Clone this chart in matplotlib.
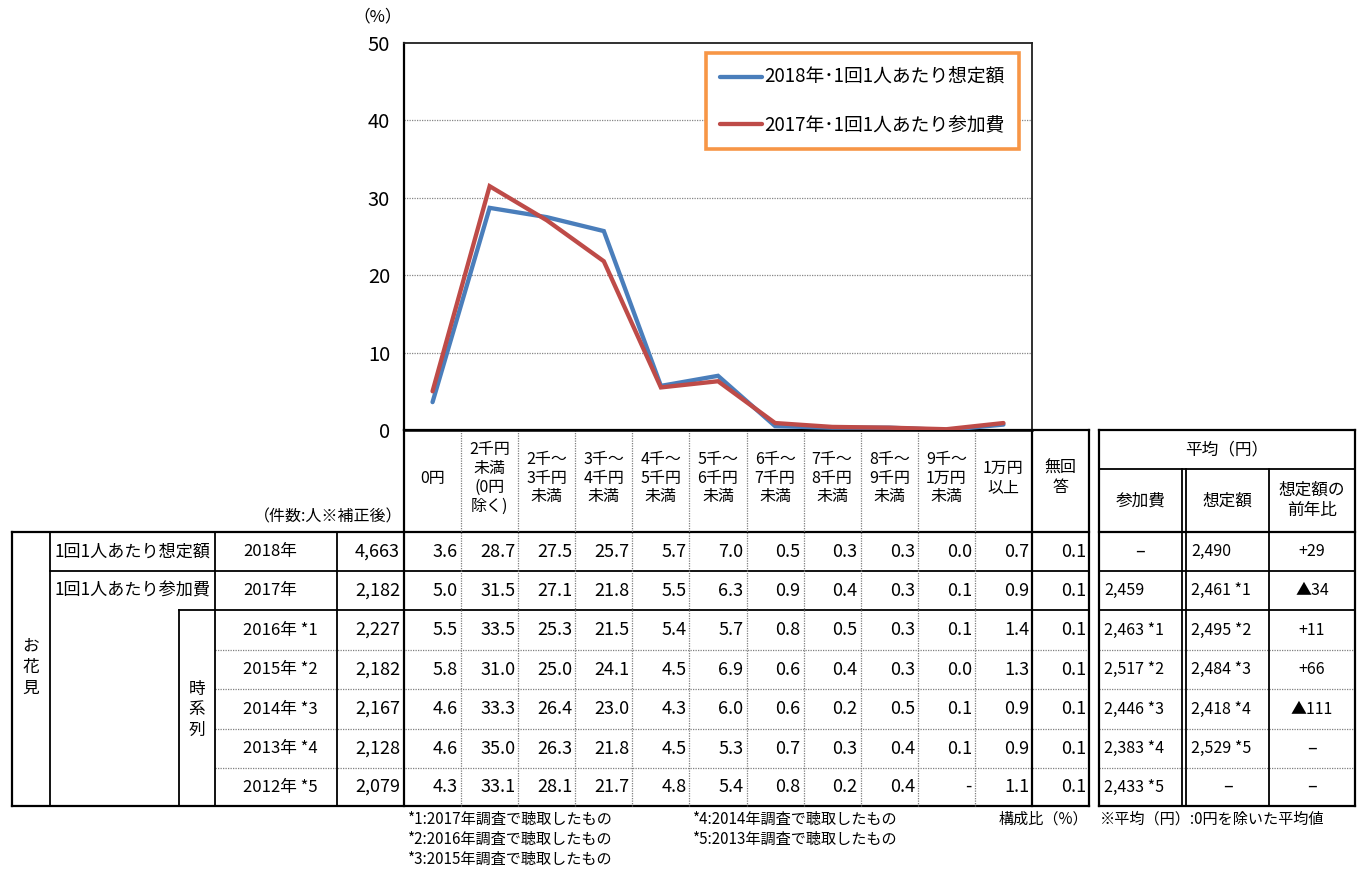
import matplotlib
matplotlib.use("Agg")
import matplotlib.pyplot as plt

plt.rcParams['font.family'] = ['Noto Sans CJK JP', 'DejaVu Sans']

# ---- data -------------------------------------------------------------
band_labels = ["0円", "2千円\n未満\n(0円\n除く)", "2千～\n3千円\n未満", "3千～\n4千円\n未満",
               "4千～\n5千円\n未満", "5千～\n6千円\n未満", "6千～\n7千円\n未満", "7千～\n8千円\n未満",
               "8千～\n9千円\n未満", "9千～\n1万円\n未満", "1万円\n以上", "無回\n答"]
chart_band_count = 11  # 無回答 is shown only in the table

row_years = ["2018年", "2017年", "2016年 *1", "2015年 *2", "2014年 *3", "2013年 *4", "2012年 *5"]
row_counts = [4663, 2182, 2227, 2182, 2167, 2128, 2079]

share_2018 = [3.6, 28.7, 27.5, 25.7, 5.7, 7.0, 0.5, 0.3, 0.3, 0.0, 0.7, 0.1]
share_2017 = [5.0, 31.5, 27.1, 21.8, 5.5, 6.3, 0.9, 0.4, 0.3, 0.1, 0.9, 0.1]
share_2016 = [5.5, 33.5, 25.3, 21.5, 5.4, 5.7, 0.8, 0.5, 0.3, 0.1, 1.4, 0.1]
share_2015 = [5.8, 31.0, 25.0, 24.1, 4.5, 6.9, 0.6, 0.4, 0.3, 0.0, 1.3, 0.1]
share_2014 = [4.6, 33.3, 26.4, 23.0, 4.3, 6.0, 0.6, 0.2, 0.5, 0.1, 0.9, 0.1]
share_2013 = [4.6, 35.0, 26.3, 21.8, 4.5, 5.3, 0.7, 0.3, 0.4, 0.1, 0.9, 0.1]
share_2012 = [4.3, 33.1, 28.1, 21.7, 4.8, 5.4, 0.8, 0.2, 0.4, None, 1.1, 0.1]
share_rows = [share_2018, share_2017, share_2016, share_2015, share_2014, share_2013, share_2012]

avg_fee = [None, 2459, 2463, 2517, 2446, 2383, 2433]
avg_fee_note = ["", "", "*1", "*2", "*3", "*4", "*5"]
avg_est = [2490, 2461, 2495, 2484, 2418, 2529, None]
avg_est_note = ["", "*1", "*2", "*3", "*4", "*5", ""]
est_yoy = [29, -34, 11, 66, -111, None, None]

series_labels = ["2018年･1回1人あたり想定額", "2017年･1回1人あたり参加費"]
series_colors = ["#4a7ebb", "#be4b48"]

footnotes_left = ["*1:2017年調査で聴取したもの", "*2:2016年調査で聴取したもの", "*3:2015年調査で聴取したもの"]
footnotes_mid = ["*4:2014年調査で聴取したもの", "*5:2013年調査で聴取したもの"]

# ---- figure -----------------------------------------------------------
W, H = 1362, 871
fig = plt.figure(figsize=(W / 100, H / 100), dpi=100)

# pixel layout
px_left, px_right = 404, 1032
px_top, px_bottom = 43, 430
col_w = (px_right - px_left) / chart_band_count

ax = fig.add_axes([px_left / W, 1 - px_bottom / H, (px_right - px_left) / W, (px_bottom - px_top) / H])
xs = list(range(chart_band_count))
ax.plot(xs, share_2018[:chart_band_count], color=series_colors[0], lw=3.1,
        solid_joinstyle='miter', solid_capstyle='round', label=series_labels[0], zorder=3)
ax.plot(xs, share_2017[:chart_band_count], color=series_colors[1], lw=3.1,
        solid_joinstyle='miter', solid_capstyle='round', label=series_labels[1], zorder=3)
ax.set_xlim(-0.5, chart_band_count - 0.5)
ax.set_ylim(0, 50)
ax.set_yticks(range(0, 51, 10))
ax.set_xticks([])
ax.tick_params(axis='y', length=0, pad=10, labelsize=14.5)
for y in range(10, 50, 10):
    ax.axhline(y, color='#868686', lw=0.9, ls=(0, (1, 1)), zorder=1)
for s in ['top', 'right']:
    ax.spines[s].set_color('#202020')
    ax.spines[s].set_linewidth(1.3)
ax.spines['left'].set_linewidth(1.6)
ax.spines['bottom'].set_linewidth(1.8)
ax.patch.set_alpha(0)

leg = ax.legend(loc='upper right', bbox_to_anchor=(0.979, 0.974), fontsize=13.5,
                frameon=True, fancybox=False, framealpha=1, borderpad=0.75,
                labelspacing=1.4, handlelength=2.2, handletextpad=0.15, borderaxespad=0)
leg.get_frame().set_edgecolor('#f79646')
leg.get_frame().set_linewidth(2.6)

fig.text(378 / W, 1 - 17 / H, "（%）", fontsize=12, ha='center', va='center')

# ---- table overlay in pixel coordinates --------------------------------
ov = fig.add_axes([0, 0, 1, 1], zorder=-1)
ov.set_xlim(0, W)
ov.set_ylim(H, 0)
ov.axis('off')

DOT = (0, (1, 1))


def hl(y, x0, x1, dotted=False, lw=1.3):
    ov.plot([x0, x1], [y, y], color='#7f7f7f' if dotted else 'black',
            lw=0.9 if dotted else lw, ls=DOT if dotted else '-', solid_capstyle='projecting')


def vl(x, y0, y1, dotted=False, lw=1.3):
    ov.plot([x, x], [y0, y1], color='#7f7f7f' if dotted else 'black',
            lw=0.9 if dotted else lw, ls=DOT if dotted else '-', solid_capstyle='projecting')


head_top, head_bot = 430, 532
row_edges = [532, 571, 610, 650, 689, 729, 768, 806]
row_mid = [(row_edges[i] + row_edges[i + 1]) / 2 for i in range(7)]
col_edges = [px_left + col_w * i for i in range(len(band_labels) + 1)]
tbl_right = col_edges[-1]

# main table lines
hl(head_top, px_left, tbl_right, lw=1.6)
hl(head_bot, 12, tbl_right, lw=1.6)
hl(row_edges[1], 50, tbl_right)
hl(row_edges[2], 179, tbl_right)
for y in row_edges[3:7]:
    hl(y, 215, tbl_right, dotted=True)
hl(row_edges[7], 12, tbl_right, lw=1.6)
vl(12, head_bot, row_edges[7], lw=1.6)
vl(50, head_bot, row_edges[7])
vl(179, row_edges[2], row_edges[7])
vl(215, head_bot, row_edges[7])
vl(337, head_bot, row_edges[7])
vl(px_left, head_top, row_edges[7], lw=1.6)
for i in range(1, chart_band_count):
    vl(col_edges[i], head_top, row_edges[7], dotted=True)
vl(col_edges[chart_band_count], head_top, row_edges[7], lw=1.6)
vl(tbl_right, head_top, row_edges[7], lw=1.6)

TFS = 12
NFS = 13
# column headers
for i, lab in enumerate(band_labels):
    cx = (col_edges[i] + col_edges[i + 1]) / 2
    ov.text(cx, 478, lab, ha='center', va='center', fontsize=11.5, linespacing=1.15)

ov.text(402, 517, "（件数:人※補正後）", ha='right', va='center', fontsize=11.5)
for k, ch in enumerate("お花見"):
    ov.text(31, 646 + 21 * k, ch, ha='center', va='center', fontsize=TFS)
for k, ch in enumerate("時系列"):
    ov.text(197, 689 + 20.5 * k, ch, ha='center', va='center', fontsize=TFS)
ov.text(55, row_mid[0], "1回1人あたり想定額", ha='left', va='center', fontsize=12.3)
ov.text(55, row_mid[1], "1回1人あたり参加費", ha='left', va='center', fontsize=12.3)

for r in range(7):
    ym = row_mid[r]
    ov.text(243, ym, row_years[r], ha='left', va='center', fontsize=TFS)
    ov.text(400, ym, f"{row_counts[r]:,}", ha='right', va='center', fontsize=NFS)
    for c, v in enumerate(share_rows[r]):
        s = "-" if v is None else f"{v:.1f}"
        ov.text(col_edges[c + 1] - 3, ym, s, ha='right', va='center', fontsize=NFS)

# average table
ax0, ax1 = 1099, 1355
c1a, c1b, c2 = 1182, 1186, 1269
hl(head_top, ax0, ax1, lw=1.6)
hl(469, ax0, ax1)
hl(head_bot, ax0, ax1, lw=1.6)
hl(row_edges[1], ax0, ax1)
hl(row_edges[2], ax0, ax1)
for y in row_edges[3:7]:
    hl(y, ax0, ax1, dotted=True)
hl(row_edges[7], ax0, ax1, lw=1.6)
vl(ax0, head_top, row_edges[7], lw=1.6)
vl(ax1, head_top, row_edges[7], lw=1.6)
vl(c1a, 469, row_edges[7])
vl(c1b, 469, row_edges[7])
vl(c2, 469, row_edges[7])

ov.text((ax0 + ax1) / 2, 450, "平均（円）", ha='center', va='center', fontsize=TFS)
ov.text((ax0 + c1a) / 2, 501, "参加費", ha='center', va='center', fontsize=TFS)
ov.text((c1b + c2) / 2, 501, "想定額", ha='center', va='center', fontsize=TFS)
ov.text((c2 + ax1) / 2, 500, "想定額の\n前年比", ha='center', va='center', fontsize=TFS, linespacing=1.25)


def avg_cell(x0, x1, ym, val, note):
    if val is None:
        ov.text((x0 + x1) / 2, ym, "–", ha='center', va='center', fontsize=13)
    else:
        s = f"{val:,}" + (f" {note}" if note else "")
        ov.text(x0 + 5, ym, s, ha='left', va='center', fontsize=11.5)


for r in range(7):
    ym = row_mid[r]
    avg_cell(ax0, c1a, ym, avg_fee[r], avg_fee_note[r])
    avg_cell(c1b, c2, ym, avg_est[r], avg_est_note[r])
    d = est_yoy[r]
    if d is None:
        ov.text((c2 + ax1) / 2, ym, "–", ha='center', va='center', fontsize=13)
        continue
    s = f"▲{-d}" if d < 0 else f"+{d}"
    ov.text((c2 + ax1) / 2, ym, s, ha='center', va='center', fontsize=11.5)

# footnotes
for k, t in enumerate(footnotes_left):
    ov.text(407, 819 + 20 * k, t, ha='left', va='center', fontsize=10.9)
for k, t in enumerate(footnotes_mid):
    ov.text(692, 819 + 20 * k, t, ha='left', va='center', fontsize=10.9)
ov.text(tbl_right - 1, 819, "構成比（%）", ha='right', va='center', fontsize=10.9)
ov.text(1100, 819, "※平均（円）:0円を除いた平均値", ha='left', va='center', fontsize=10.9)

fig.savefig("out.png", dpi=100, facecolor='white')
